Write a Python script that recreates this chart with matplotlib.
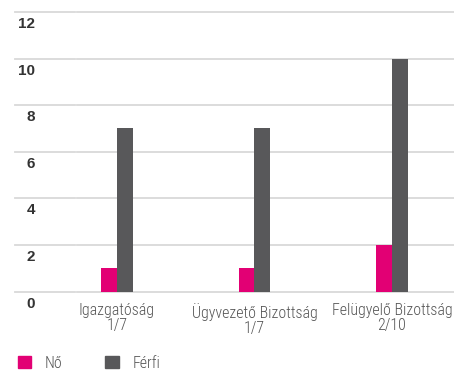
import matplotlib
matplotlib.use('Agg')
import matplotlib.pyplot as plt
import matplotlib.transforms as mtransforms
from matplotlib.lines import Line2D
from matplotlib.patches import Patch
import numpy as np

categories = ['Igazgatóság\n1/7', 'Ügyvezető Bizottság\n1/7', 'Felügyelő Bizottság\n2/10']
women = [1, 1, 2]
men = [7, 7, 10]
yticks = [0, 2, 4, 6, 8, 10, 12]

pink = '#e20074'
grey = '#58585a'
gridc = '#d9d9d9'
label_font = ['Roboto Condensed', 'DejaVu Sans']

W, H = 454, 392
fig = plt.figure(figsize=(W / 100, H / 100), dpi=100)
ax = fig.add_axes([76.5 / W, 1 - 291.5 / H, (W - 76.5) / W, (291.5 - 12) / H])

x = np.arange(len(categories))
bw = 16 / 137.5
ax.bar(x - bw / 2, women, bw, color=pink, zorder=3)
ax.bar(x + bw / 2, men, bw, color=grey, zorder=3)

ax.set_xlim(-(117 - 76.5) / 137.5, (W - 117) / 137.5)
ax.set_ylim(0, 12)
for s in ax.spines.values():
    s.set_visible(False)
ax.set_xticks([])
ax.set_yticks([])

# gridlines, plus a short separate segment above each value label
ftrans = mtransforms.blended_transform_factory(fig.transFigure, ax.transData)
label_trans = ftrans + mtransforms.ScaledTranslation(0, -5 / 100, fig.dpi_scale_trans)
for v in yticks:
    ax.axhline(v, color=gridc, lw=1.3, zorder=1, clip_on=False)
    fig.add_artist(Line2D([15 / W, 74.5 / W], [v, v], transform=ftrans,
                          color=gridc, lw=1.3))
    fig.text(35 / W, v, str(v), transform=label_trans, ha='right', va='top',
             fontsize=11, fontweight='bold', color='#333333',
             family=['Liberation Sans', 'DejaVu Sans'])

for xi, lab in zip(x, categories):
    ax.annotate(lab, xy=(xi, 0), xycoords='data', xytext=(0, -8),
                textcoords='offset points', ha='center', va='top',
                fontsize=11.4, fontweight='light', color='#555555',
                linespacing=1.05, family=label_font)

handles = [Patch(color=pink, label='Nő'), Patch(color=grey, label='Férfi')]
fig.legend(handles=handles, loc='center left', bbox_to_anchor=(18 / W, 1 - 363 / H),
           ncol=2, frameon=False, handlelength=0.85, handleheight=0.85,
           handletextpad=0.85, columnspacing=2.7, borderaxespad=0, borderpad=0,
           prop={'family': label_font, 'size': 11.4, 'weight': 'light'},
           labelcolor='#555555')

fig.savefig('out.png', dpi=100)
